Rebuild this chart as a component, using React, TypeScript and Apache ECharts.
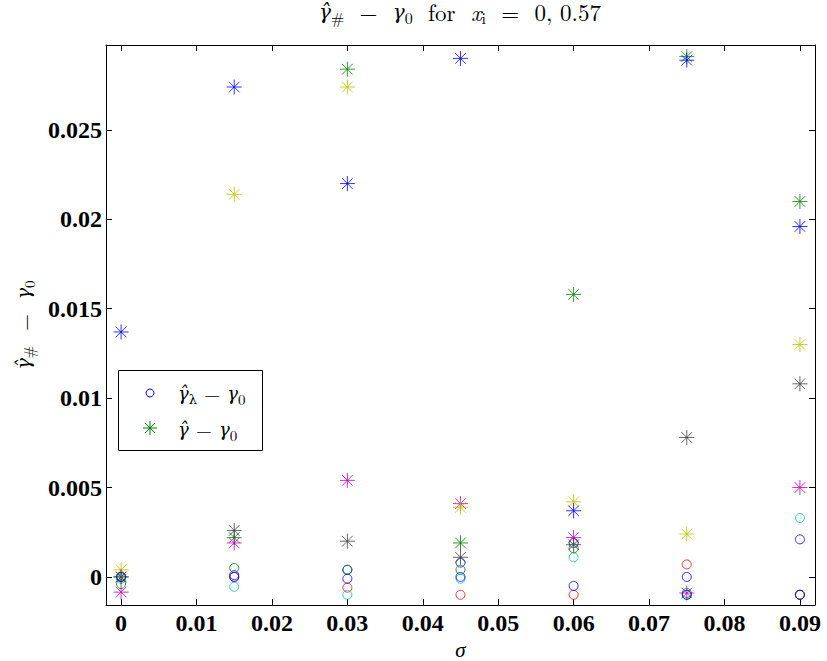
import React, { useEffect, useRef } from "react";
import * as echarts from "echarts";

const sigma = [0, 0.015, 0.03, 0.045, 0.06, 0.075, 0.09];

// circle markers (gamma_lambda hat - gamma_0)
const circleBlueA = [0.0, 0.0001, 0.0004, 0.0008, 0.0019, 0.0, 0.0021];
const circleBlueB = [0.0, 0.0, -0.0001, 0.0, -0.0005, -0.001, -0.001];
const circleGreen = [-0.0004, 0.0005, 0.0004, 0.0004, 0.0016, -0.0009, -0.001];
const circleRed = [0.0, 0.0, -0.0006, -0.001, -0.001, 0.0007, -0.001];
const circleCyan = [-0.0001, -0.00055, -0.001, -0.0001, 0.0011, -0.001, 0.0033];

// star markers (gamma hat - gamma_0)
const starBlue = [0.0137, 0.0274, 0.022, 0.029, 0.0037, 0.0289, 0.0196];
const starGreen = [0.0, 0.0022, 0.0284, 0.0019, 0.0158, 0.0291, 0.021];
const starYellow = [0.0004, 0.0214, 0.0274, 0.0039, 0.0042, 0.0024, 0.013];
const starGray = [0.0, 0.0026, 0.002, 0.0011, 0.0018, 0.0078, 0.0108];
const starMagenta = [-0.00085, 0.0019, 0.0054, 0.0041, 0.0022, -0.0009, 0.005];

const xTicks = [0, 0.01, 0.02, 0.03, 0.04, 0.05, 0.06, 0.07, 0.08, 0.09];
const yTicks = [0, 0.005, 0.01, 0.015, 0.02, 0.025];
const yTickLabels = ["0", "0.005", "0.01", "0.015", "0.02", "0.025"];
const xTickLabels = ["0", "0.01", "0.02", "0.03", "0.04", "0.05", "0.06", "0.07", "0.08", "0.09"];

const FONT = "Liberation Serif";
const MATH = "Latin Modern Roman";
const GREEK = "DejaVu Serif";
const STAR = "path://M0,-10L0,10M-10,0L10,0M-7.07,-7.07L7.07,7.07M-7.07,7.07L7.07,-7.07";

const COL = {
  blue: "#0000ff",
  green: "#008000",
  red: "#ff0000",
  cyan: "#00bfbf",
  magenta: "#bf00bf",
  yellow: "#bfbf00",
  gray: "#404040",
};

const mathRich = (size: number) => ({
  n: { fontFamily: MATH, fontSize: size, lineHeight: size, fontWeight: "normal", color: "#000" },
  i: { fontFamily: MATH, fontSize: size, lineHeight: size, fontStyle: "italic", fontWeight: "normal", color: "#000" },
  g: {
    fontFamily: GREEK,
    fontSize: Math.round(size * 0.88),
    lineHeight: size,
    fontStyle: "italic",
    fontWeight: "normal",
    color: "#000",
  },
  sub: {
    fontFamily: MATH,
    fontSize: Math.round(size * 0.7),
    lineHeight: Math.round(size * 0.7),
    fontWeight: "normal",
    color: "#000",
    padding: [Math.round(size * 0.5), 0, 0, 0],
  },
  subg: {
    fontFamily: GREEK,
    fontSize: Math.round(size * 0.62),
    lineHeight: Math.round(size * 0.62),
    fontWeight: "normal",
    color: "#000",
    padding: [Math.round(size * 0.55), 0, 0, 0],
  },
});

function circleSeries(name: string, vals: number[], color: string) {
  return {
    type: "scatter",
    name,
    symbol: "circle",
    symbolSize: 9,
    data: sigma.map((s, i) => [s, vals[i]]),
    itemStyle: { color: "rgba(0,0,0,0)", borderColor: color, borderWidth: 1 },
    emphasis: { disabled: true },
    silent: true,
  };
}

function starSeries(name: string, vals: number[], color: string) {
  return {
    type: "scatter",
    name,
    symbol: STAR,
    symbolSize: 15,
    data: sigma.map((s, i) => [s, vals[i]]),
    itemStyle: { color: "rgba(0,0,0,0)", borderColor: color, borderWidth: 1 },
    emphasis: { disabled: true },
    silent: true,
  };
}

function starGraphic(cx: number, cy: number, r: number, color: string) {
  const d = r * 0.707;
  const seg = (x1: number, y1: number, x2: number, y2: number) => ({
    type: "line",
    shape: { x1: cx + x1, y1: cy + y1, x2: cx + x2, y2: cy + y2 },
    style: { stroke: color, lineWidth: 1 },
  });
  return [seg(0, -r, 0, r), seg(-r, 0, r, 0), seg(-d, -d, d, d), seg(-d, d, d, -d)];
}

export default function App() {
  const ref = useRef<HTMLDivElement>(null);
  useEffect(() => {
    if (!ref.current) return;
    const chart = echarts.init(ref.current, null, { renderer: "svg" });
    const axisLine = { show: true, onZero: false, lineStyle: { color: "#000", width: 1 } };
    const labelStyle = { fontFamily: FONT, fontSize: 24, fontWeight: "bold", color: "#000" };
    const option: any = {
      animation: false,
      backgroundColor: "#fff",
      title: {
        text: "{g|γ̂}{sub|#}{n|  −  }{g|γ}{sub|0}{n|  for  }{i|x}{sub|i}{n|  =  0, 0.57}",
        left: 460,
        top: 0,
        padding: 0,
        textAlign: "center",
        textStyle: { fontWeight: "normal", rich: mathRich(23) },
      },
      grid: { left: 106, right: 12, top: 45, bottom: 56, containLabel: false, outerBoundsMode: "none" },
      xAxis: [
        {
          type: "value",
          position: "bottom",
          min: -0.002,
          max: 0.092,
          axisLine,
          axisTick: { show: true, inside: true, length: 6, customValues: xTicks, lineStyle: { color: "#000" } },
          axisLabel: {
            show: true,
            customValues: xTicks,
            margin: 6,
            ...labelStyle,
            formatter: (v: number) => {
              const i = xTicks.findIndex((t) => Math.abs(t - v) < 1e-9);
              return i >= 0 ? xTickLabels[i] : "";
            },
          },
          splitLine: { show: false },
          name: "σ",
          nameLocation: "middle",
          nameGap: 6,
          nameTextStyle: { fontFamily: FONT, fontSize: 21, lineHeight: 18, fontStyle: "italic", color: "#000" },
        },
        {
          type: "value",
          position: "top",
          min: -0.002,
          max: 0.092,
          axisLine,
          axisTick: { show: true, inside: true, length: 6, customValues: xTicks, lineStyle: { color: "#000" } },
          axisLabel: { show: false },
          splitLine: { show: false },
        },
      ],
      yAxis: [
        {
          type: "value",
          position: "left",
          min: -0.00157,
          max: 0.02975,
          axisLine,
          axisTick: { show: true, inside: true, length: 6, customValues: yTicks, lineStyle: { color: "#000" } },
          axisLabel: {
            show: true,
            customValues: yTicks,
            margin: 4,
            ...labelStyle,
            formatter: (v: number) => {
              const i = yTicks.findIndex((t) => Math.abs(t - v) < 1e-9);
              return i >= 0 ? yTickLabels[i] : "";
            },
          },
          splitLine: { show: false },
          name: "{g|γ̂}{sub|#}{n|  −  }{g|γ}{sub|0}",
          nameLocation: "middle",
          nameRotate: 90,
          nameGap: 72,
          nameTextStyle: { rich: mathRich(22) },
        },
        {
          type: "value",
          position: "right",
          min: -0.00157,
          max: 0.02975,
          axisLine,
          axisTick: { show: true, inside: true, length: 6, customValues: yTicks, lineStyle: { color: "#000" } },
          axisLabel: { show: false },
          splitLine: { show: false },
        },
      ],
      series: [
        circleSeries("circleBlueA", circleBlueA, COL.blue),
        starSeries("starGreen", starGreen, COL.green),
        circleSeries("circleRed", circleRed, COL.red),
        circleSeries("circleCyan", circleCyan, COL.cyan),
        starSeries("starMagenta", starMagenta, COL.magenta),
        starSeries("starYellow", starYellow, COL.yellow),
        starSeries("starGray", starGray, COL.gray),
        starSeries("starBlue", starBlue, COL.blue),
        circleSeries("circleGreen", circleGreen, COL.green),
        circleSeries("circleBlueB", circleBlueB, COL.blue),
      ],
      graphic: [
        {
          type: "group",
          children: [
            {
              type: "rect",
              shape: { x: 118.5, y: 370.5, width: 144, height: 80 },
              style: { fill: "#fff", stroke: "#000", lineWidth: 1 },
            },
            {
              type: "circle",
              shape: { cx: 150, cy: 393, r: 4 },
              style: { fill: "none", stroke: COL.blue, lineWidth: 1 },
            },
            ...starGraphic(150, 428, 7, COL.green),
            {
              type: "text",
              x: 178,
              y: 393,
              style: {
                text: "{g|γ̂}{subg|λ}{n| − }{g|γ}{sub|0}",
                verticalAlign: "middle",
                align: "left",
                rich: mathRich(21),
              },
            },
            {
              type: "text",
              x: 178,
              y: 429,
              style: {
                text: "{g|γ̂}{n| − }{g|γ}{sub|0}",
                verticalAlign: "middle",
                align: "left",
                rich: mathRich(21),
              },
            },
          ],
        },
      ],
    };
    chart.setOption(option);
    return () => chart.dispose();
  }, []);
  return <div ref={ref} style={{ position: "fixed", left: 0, top: 0, width: 827, height: 661 }} />;
}
